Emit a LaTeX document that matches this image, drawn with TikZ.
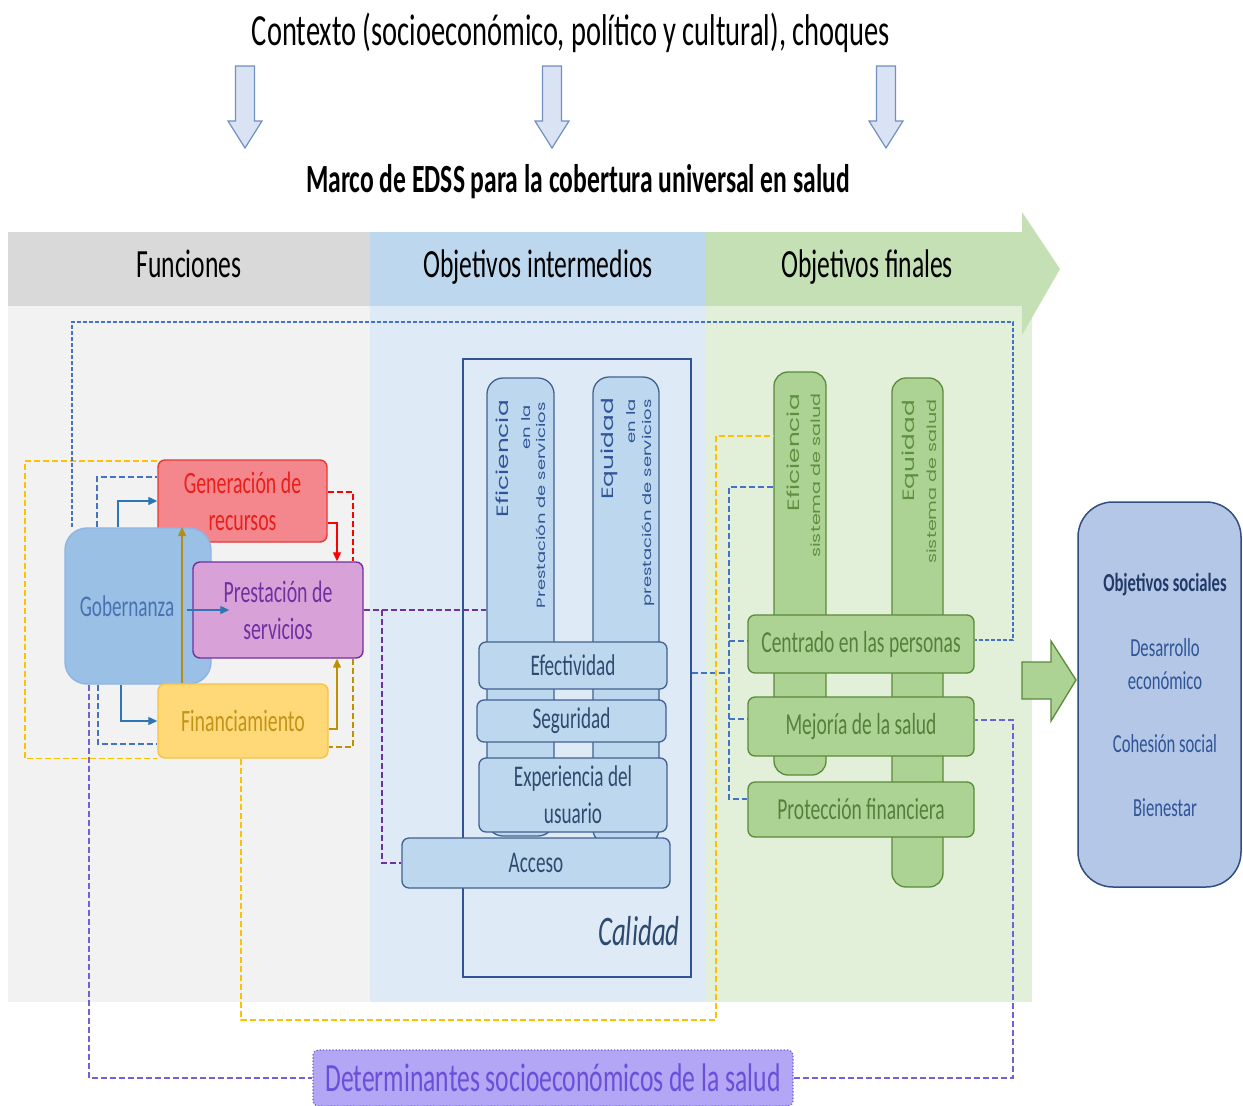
\documentclass[tikz,border=0pt]{standalone}
\usepackage{fontspec}
\setmainfont{Carlito}[FakeStretch=0.64]
\newfontfamily\vf{Poppins}[FakeStretch=1.5]
\usetikzlibrary{arrows.meta}
\newcommand\fsz[2]{\fontsize{#1}{#2}\selectfont}
\definecolor{hgray}{HTML}{D9D9D9}
\definecolor{hblue}{HTML}{BDD7EE}
\definecolor{hgreen}{HTML}{C5E0B4}
\definecolor{pgray}{HTML}{F2F2F2}
\definecolor{pblue}{HTML}{DEEBF7}
\definecolor{pgreen}{HTML}{E2F0D9}
\definecolor{genfill}{HTML}{F4878D}
\definecolor{genline}{HTML}{E53935}
\definecolor{gentext}{HTML}{E8201A}
\definecolor{prfill}{HTML}{D8A2D9}
\definecolor{prline}{HTML}{7030A0}
\definecolor{gobfill}{HTML}{9AC0E6}
\definecolor{gobline}{HTML}{8EB4E3}
\definecolor{gobtext}{HTML}{4A72B2}
\definecolor{finfill}{HTML}{FFD878}
\definecolor{finline}{HTML}{F6C343}
\definecolor{fintext}{HTML}{C09418}
\definecolor{calline}{HTML}{2F5597}
\definecolor{bbar}{HTML}{BDD7EE}
\definecolor{bline}{HTML}{41608F}
\definecolor{btext}{HTML}{2E4A6E}
\definecolor{vbtext}{HTML}{2F5597}
\definecolor{gbar}{HTML}{ADD394}
\definecolor{gline}{HTML}{5A8A3A}
\definecolor{gtext}{HTML}{55803A}
\definecolor{vgtext}{HTML}{5E9040}
\definecolor{socfill}{HTML}{B4C7E7}
\definecolor{socline}{HTML}{2F4F80}
\definecolor{soctext}{HTML}{2F5496}
\definecolor{dettext}{HTML}{6A4FD9}
\definecolor{detfill}{HTML}{B2A6F5}
\definecolor{detline}{HTML}{6A5AD6}
\definecolor{tafill}{HTML}{DAE3F3}
\definecolor{taline}{HTML}{7090C0}
\definecolor{ydc}{HTML}{FFC000}
\definecolor{bdc}{HTML}{4472C4}
\definecolor{ddc}{HTML}{6F62D8}
\definecolor{pdc}{HTML}{7030A0}
\definecolor{gdc}{HTML}{BF9000}
\definecolor{bac}{HTML}{2E75B6}
\begin{document}
\begin{tikzpicture}[x=1pt,y=-1pt,
  fbox/.style={draw, line width=1.4pt, rounded corners=7pt, inner sep=0pt, align=center},
  hdr/.style={inner sep=0pt, font=\fsz{40}{44}},
  bbox/.style={fbox, fill=bbar, draw=bline, line width=1.3pt, text=btext, font=\fsz{30}{37}},
  gbox/.style={fbox, fill=gbar, draw=gline, line width=1.3pt, text=gtext, font=\fsz{30.5}{37}, minimum width=226pt},
  vbig/.style={rotate=90, anchor=east, inner sep=0pt, font=\vf\fsz{16.5}{20}},
  vsmall/.style={rotate=90, anchor=east, inner sep=0pt, font=\vf\fsz{12}{14}},
  dsh/.style={line width=1.5pt, dash pattern=on 6pt off 3pt},
  ydash/.style={dsh, draw=ydc},
  bdash/.style={dsh, draw=bdc},
  ddash/.style={dsh, draw=ddc},
  pdash/.style={dsh, draw=pdc},
  rdash/.style={dsh, draw=red},
  gdash/.style={dsh, draw=gdc},
  tip/.style={-{Triangle[length=9pt,width=8pt]}},
  barrow/.style={tip, draw=bac, line width=1.3pt},
  soct/.style={text=soctext, font=\fsz{26}{33}, align=center}
]
\useasboundingbox (0,0) rectangle (1243,1106);
\fill[white] (0,0) rectangle (1243,1106);

% title and top arrows
\node[font=\fsz{44.5}{50}] (title) at (571,33) {Contexto (socioeconómico, político y cultural), choques};
\foreach \cx in {245,552,886}{
  \draw[fill=tafill, draw=taline, line width=1.2pt]
    (\cx-9.5,66) -- (\cx+9.5,66) -- (\cx+9.5,121) -- (\cx+17,121) -- (\cx,148) -- (\cx-17,121) -- (\cx-9.5,121) -- cycle;
}
\node[font=\bfseries\fsz{40}{44}] (marco) at (578,182) {Marco de EDSS para la cobertura universal en salud};

% panes
\fill[pgray] (8,306) rectangle (370,1002);
\fill[pblue] (370,306) rectangle (706,1002);
\fill[pgreen] (706,306) rectangle (1032,1002);
\fill[hgreen] (1022,212) -- (1060,269) -- (1022,335) -- cycle;
\node[hdr, fill=hgray, minimum width=362pt, minimum height=74pt] (hf) at (189,269) {\strut Funciones};
\node[hdr, fill=hblue, minimum width=336pt, minimum height=74pt] (hi) at (538,269) {\strut Objetivos intermedios};
\node[hdr, fill=hgreen, minimum width=316pt, minimum height=74pt] (hfi) at (864,269) {\strut\kern6pt Objetivos finales};

% functions
\node[fbox, fill=genfill, draw=genline, text=gentext, minimum width=169pt, minimum height=82pt, font=\fsz{31}{37}] (gen) at (242.5,501) {Generación de\\recursos};
\node[fbox, fill=gobfill, draw=gobline, text=gobtext, rounded corners=22pt, minimum width=146pt, minimum height=156pt, font=\fsz{30}{34}] (gob) at (138,606) {\kern-22pt Gobernanza};
\node[fbox, fill=prfill, draw=prline, text=prline, minimum width=170pt, minimum height=96pt, font=\fsz{31}{37}] (prest) at (278,610) {Prestación de\\servicios};
\node[fbox, fill=finfill, draw=finline, text=fintext, minimum width=170pt, minimum height=74pt, font=\fsz{31}{34}] (fin) at (243,721) {Financiamiento};

\draw[barrow] (gob.north -| 118,0) |- (gen.west);
\draw[barrow] (187,610) -- ([xshift=37pt]prest.west);
\draw[barrow] (gob.south -| 121,0) |- (fin.west);
\draw[tip, draw=red, line width=1.2pt] (gen.east |- 0,523) -| (prest.north -| 337,0);
\draw[rdash] (gen.east |- 0,492) -| (prest.north -| 353,0);
\draw[tip, draw=gdc, line width=1.2pt] (fin.east |- 0,729) -| (prest.south -| 337,0);
\draw[gdash] (prest.south -| 353,0) |- (fin.east |- 0,747);
\coordinate (gu) at (182,527);
\draw[tip, draw=gdc!80!gray, line width=1.2pt] (fin.north -| 182,0) -- (gu);
\draw[bdash] (gob.north -| 97,0) |- (gen.west |- 0,477);
\draw[bdash] (gob.south -| 98,0) |- (fin.west |- 0,744);
\draw[ydash] (gen.west |- 0,461) -| (25,610) |- (fin.south west);

% intermediate
\node[draw=calline, line width=1.3pt, minimum width=228pt, minimum height=618pt, inner sep=0pt] (cal) at (577,668) {};
\node[fbox, fill=bbar, draw=bline, line width=1.3pt, rounded corners=16pt, minimum width=67pt, minimum height=458pt] (effb) at (520.5,607) {};
\node[fbox, fill=bbar, draw=bline, line width=1.3pt, rounded corners=16pt, minimum width=66pt, minimum height=468pt] (eqb) at (626,611) {};
\node[vbig, text=vbtext] (t1) at (502,400) {Eficiencia};
\node[vsmall, text=vbtext] (t2) at (526,405) {en la};
\node[vsmall, text=vbtext] (t3) at (541,402) {Prestación de servicios};
\node[vbig, text=vbtext] (t4) at (609,398) {Equidad};
\node[vsmall, text=vbtext] (t5) at (631,399) {en la};
\node[vsmall, text=vbtext] (t6) at (648,399) {prestación de servicios};
\node[bbox, minimum width=188pt, minimum height=47pt] (eff) at (573,665.5) {Efectividad};
\node[bbox, minimum width=189pt, minimum height=42pt] (seg) at (571.5,721) {Seguridad};
\node[bbox, minimum width=188pt, minimum height=74pt] (exp) at (573,795) {Experiencia del\\usuario};
\node[bbox, minimum width=268pt, minimum height=50pt] (acc) at (536,863) {Acceso};
\node[anchor=base east, inner sep=0pt, text=btext, font=\itshape\fsz{42}{46}] (calt) at (680,945) {Calidad};

\draw[pdash] (prest.east) -- (effb.west |- prest.east);
\coordinate (pj) at (382,610);
\draw[pdash] (pj) |- (acc.west);

% finals
\node[fbox, fill=gbar, draw=gline, line width=1.3pt, rounded corners=14pt, minimum width=52pt, minimum height=403pt] (effs) at (800,573.5) {};
\node[fbox, fill=gbar, draw=gline, line width=1.3pt, rounded corners=14pt, minimum width=51pt, minimum height=509pt] (eqs) at (917.5,632.5) {};
\node[vbig, text=vgtext] (t7) at (793,394) {Eficiencia};
\node[vsmall, text=vgtext, font=\vf\fsz{12.8}{14}] (t8) at (816,393) {sistema de salud};
\node[vbig, text=vgtext] (t9) at (910,400) {Equidad};
\node[vsmall, text=vgtext, font=\vf\fsz{12.8}{14}] (t10) at (932,399) {sistema de salud};
\node[gbox, minimum height=58pt] (cen) at (861,644) {Centrado en las personas};
\node[gbox, minimum height=59pt] (mej) at (861,726.5) {Mejoría de la salud};
\node[gbox, minimum height=55pt] (pro) at (861,809.5) {Protección financiera};

\draw[bdash] (effs.west |- 0,487) -| (729,799) -- (pro.west |- 0,799);
\draw[bdash] (729,641) -- (cen.west |- 0,641);
\draw[bdash] (729,719) -- (mej.west |- 0,719);
\draw[bdash] (cal.east |- 0,673) -- (729,673);
\draw[ydash] (fin.south -| 241,0) |- (716,1020) -- (716,436) -- (effs.west |- 0,436);
\draw[bdash, dash pattern=on 4pt off 2pt] (gob.north -| 72,0) |- (1013,322) |- (cen.east |- 0,640);

% social objectives
\draw[fill=gbar, draw=gline, line width=1.3pt] (1022,662) -- (1051,662) -- (1051,641) -- (1076,680) -- (1051,721) -- (1051,699) -- (1022,699) -- cycle;
\node[fbox, fill=socfill, draw=socline, line width=1.5pt, rounded corners=35pt, minimum width=163pt, minimum height=385pt] (soc) at (1159.5,694.5) {};
\node[soct, text=soctext!70!black, font=\bfseries\fsz{26}{30}] (s1) at (1165,585) {Objetivos sociales};
\node[soct] (s2) at (1165,664) {Desarrollo\\económico};
\node[soct] (s3) at (1165,744) {Cohesión social};
\node[soct] (s4) at (1165,808) {Bienestar};

% determinants
\node[fbox, fill=detfill, draw=detline, line width=1.2pt, dotted, rounded corners=5pt, minimum width=480pt, minimum height=56pt, text=dettext, font=\fsz{40}{44}] (det) at (553,1078) {Determinantes socioeconómicos de la salud};
\draw[ddash] (gob.south -| 89,0) |- (det.west);
\draw[ddash] (det.east) -| (1013,720) -- (mej.east |- 0,720);
\end{tikzpicture}
\end{document}
